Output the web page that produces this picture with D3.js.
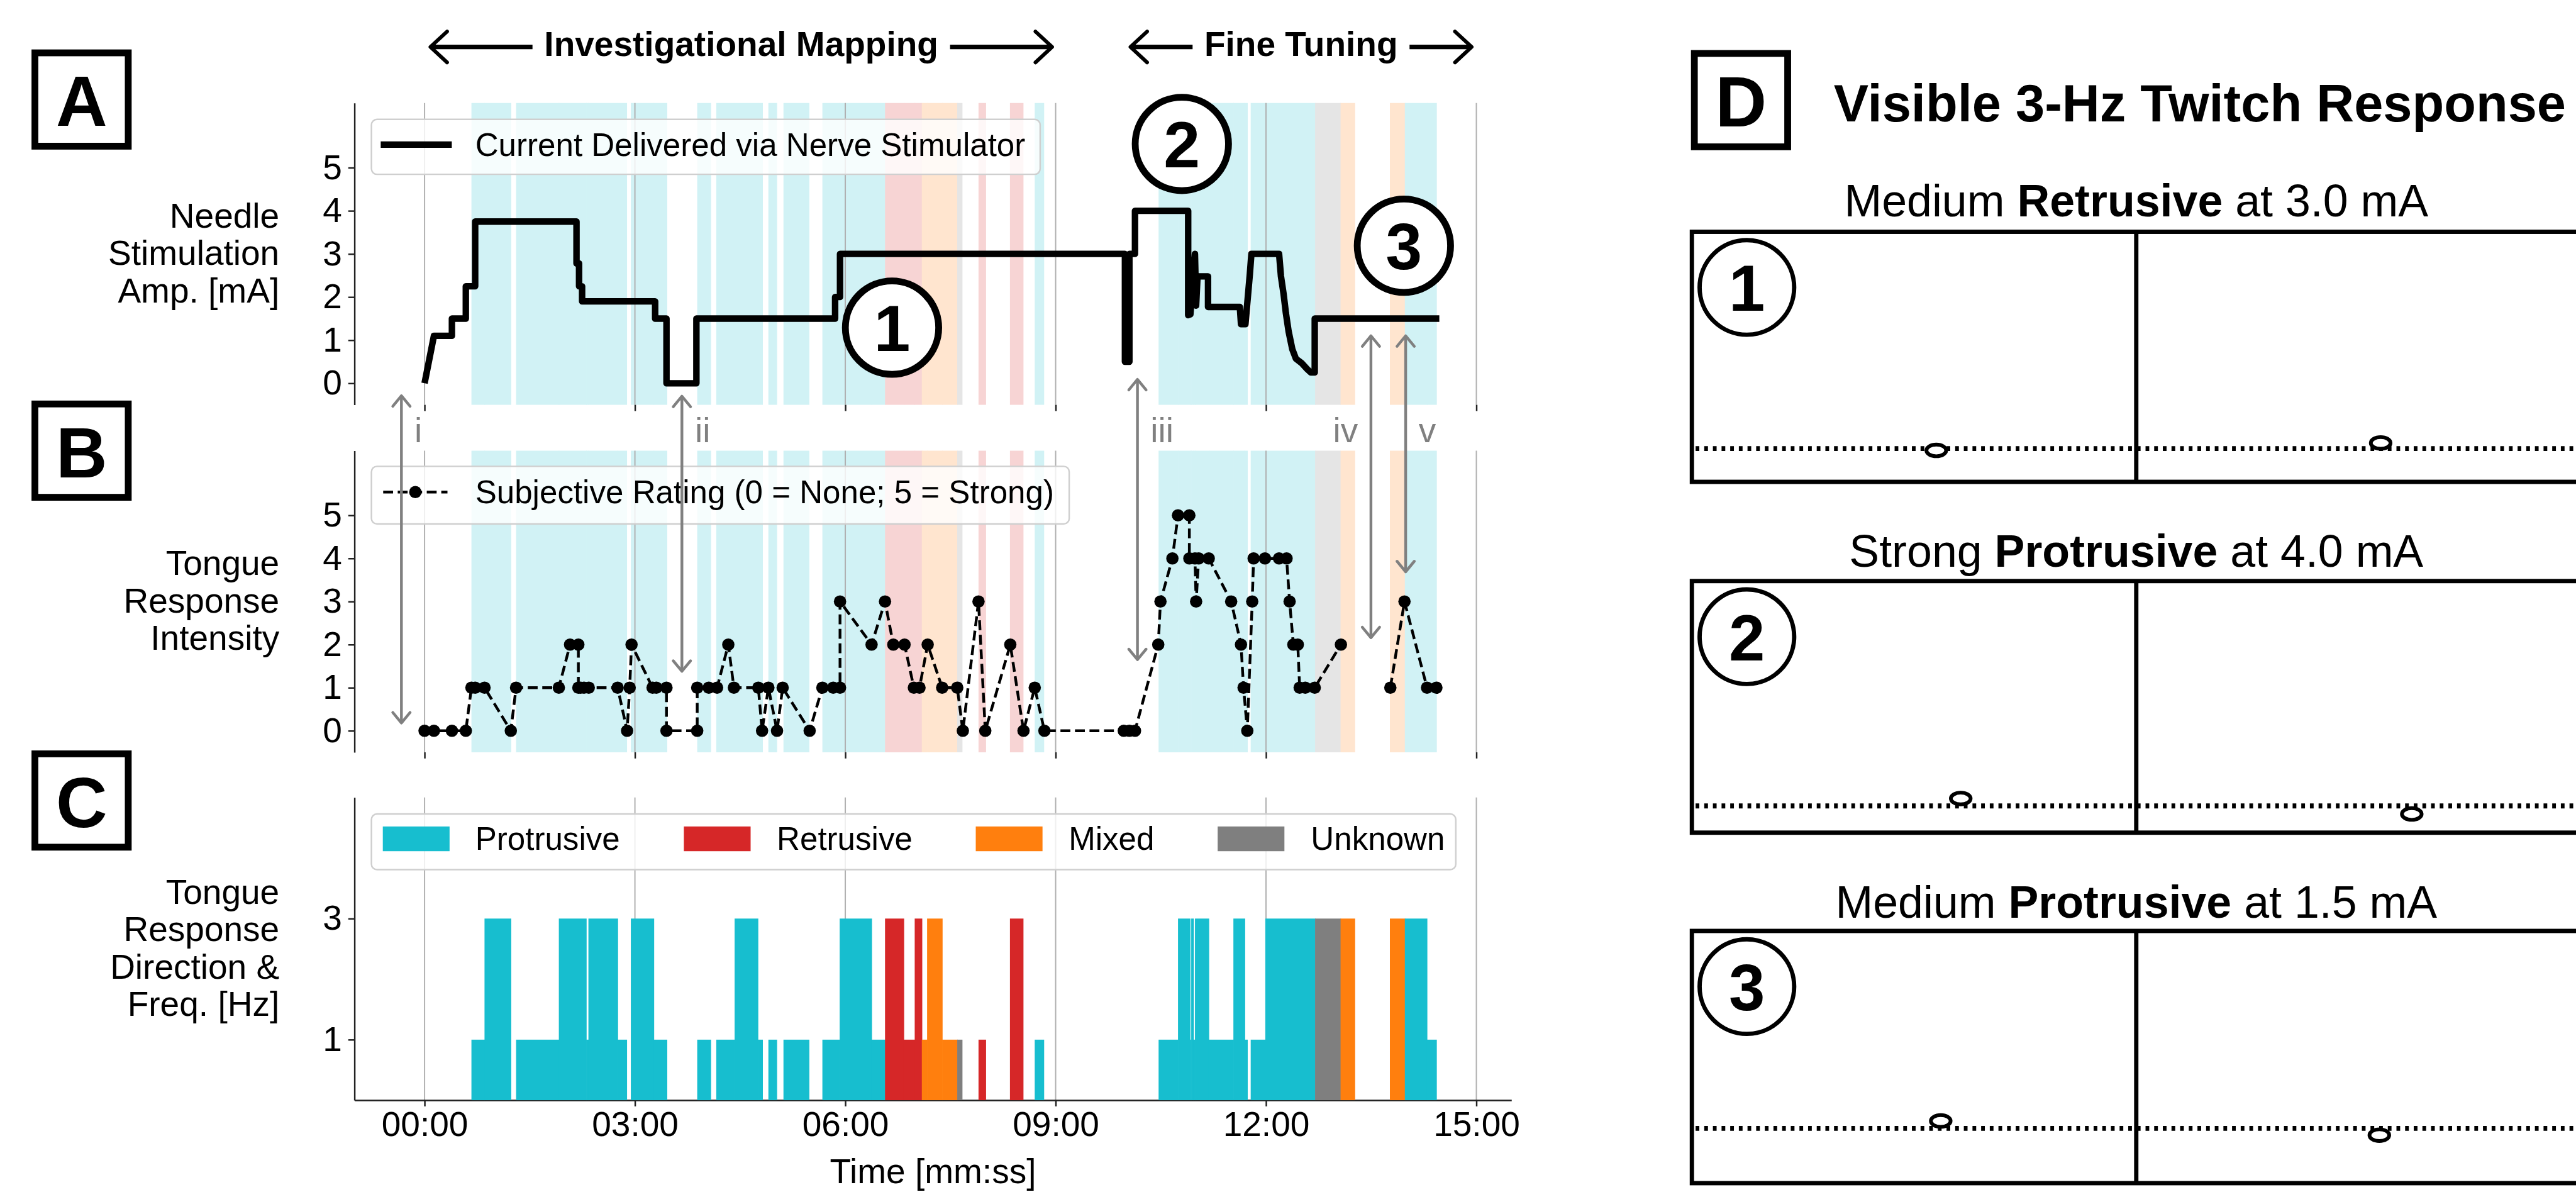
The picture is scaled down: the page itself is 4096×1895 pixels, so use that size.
<!DOCTYPE html>
<html>
<head>
<meta charset="utf-8">
<script src="https://cdn.jsdelivr.net/npm/d3@7/dist/d3.min.js"></script>
<style>
html,body{margin:0;padding:0;background:#fff;}
svg{display:block;}
</style>
</head>
<body>
<svg id="chart" width="4096" height="1895"></svg>
<script>
// ---------------- DATA ----------------
const directions = ["Protrusive", "Retrusive", "Mixed", "Unknown"];
const directionColors = ["#17becf", "#d62728", "#ff7f0e", "#7f7f7f"];
const timeTicks = [0, 180, 360, 540, 720, 900];
const timeTickLabels = ["00:00", "03:00", "06:00", "09:00", "12:00", "15:00"];
const ampTicks = [0, 1, 2, 3, 4, 5];
const ratingTicks = [0, 1, 2, 3, 4, 5];
const freqTicks = [1, 3];

// [start (s), end (s), direction, frequency (Hz)]
const responseSegments = [
  [40.1, 51.3, "Protrusive", 1], [51.3, 73.8, "Protrusive", 3],
  [78.3, 114.9, "Protrusive", 1], [114.9, 138.3, "Protrusive", 3],
  [138.3, 140.2, "Protrusive", 1], [140.2, 165.2, "Protrusive", 3],
  [165.2, 172.9, "Protrusive", 1], [176.5, 196.1, "Protrusive", 3],
  [196.1, 207.3, "Protrusive", 1], [233.3, 244.8, "Protrusive", 1],
  [249.6, 265.3, "Protrusive", 1], [265.3, 285.2, "Protrusive", 3],
  [285.2, 289.1, "Protrusive", 1], [294.2, 301.3, "Protrusive", 1],
  [307.1, 328.9, "Protrusive", 1], [340.4, 355.2, "Protrusive", 1],
  [355.2, 382.5, "Protrusive", 3], [382.5, 394.0, "Protrusive", 1],
  [394.0, 410.0, "Retrusive", 3], [410.0, 419.4, "Retrusive", 1],
  [419.4, 425.5, "Retrusive", 3], [425.5, 430.0, "Mixed", 1],
  [430.0, 442.9, "Mixed", 3], [442.9, 455.8, "Mixed", 1],
  [455.8, 459.9, "Unknown", 1], [474.0, 480.1, "Retrusive", 1],
  [500.9, 512.1, "Retrusive", 3], [522.1, 529.8, "Protrusive", 1],
  [628.1, 644.7, "Protrusive", 1], [644.7, 655.0, "Protrusive", 3],
  [655.0, 656.0, "Protrusive", 1], [656.0, 657.9, "Protrusive", 3],
  [657.9, 659.2, "Protrusive", 1], [659.2, 671.0, "Protrusive", 3],
  [671.0, 692.1, "Protrusive", 1], [692.1, 701.8, "Protrusive", 3],
  [701.8, 704.0, "Protrusive", 1], [706.9, 719.4, "Protrusive", 1],
  [719.4, 762.0, "Protrusive", 3], [762.0, 783.8, "Unknown", 3],
  [783.8, 795.9, "Mixed", 3], [826.0, 838.8, "Mixed", 3],
  [838.8, 857.7, "Protrusive", 3], [857.7, 865.8, "Protrusive", 1]
];

// [time (s), current (mA)]
const currentTrace = [
  [0, 0], [8.0, 1.1], [23.4, 1.1], [23.4, 1.5], [35.3, 1.5], [35.3, 2.25],
  [43.3, 2.25], [43.3, 3.75], [130, 3.75], [130, 2.78], [132.2, 2.78],
  [132.2, 2.25], [134.8, 2.25], [134.8, 1.9], [197.3, 1.9], [197.3, 1.5],
  [207, 1.5], [207, 0], [232.6, 0], [232.6, 1.5], [351.3, 1.5], [351.3, 2.0],
  [355.5, 2.0], [355.5, 3.0], [599.3, 3.0], [599.3, 0.5], [603.1, 0.5],
  [603.1, 3.0], [607.9, 3.0], [607.9, 4.0], [653.4, 4.0], [653.4, 1.58],
  [655.3, 1.6], [657.6, 2.4], [659.2, 3.0], [660.2, 1.8], [661.4, 2.48],
  [670.4, 2.48], [670.4, 1.77], [697.6, 1.77], [698.6, 1.37], [702.4, 1.37],
  [706.2, 2.54], [707.5, 3.0], [731.2, 3.0], [732.8, 2.48], [735.1, 2.06],
  [737.0, 1.63], [739.3, 1.21], [742.5, 0.79], [745.6, 0.57], [750.4, 0.47],
  [755.2, 0.33], [758.4, 0.25], [761.7, 0.25], [761.7, 1.5], [868.3, 1.5]
];

// [time (s), subjective rating]; null = break in the line
const ratingTrace = [
  [0, 0], [8.0, 0], [23.4, 0], [35.3, 0], [40.1, 1], [43.3, 1], [51.3, 1],
  [73.8, 0], [78.3, 1], [114.9, 1], [124.5, 2], [131.6, 2], [131.6, 1],
  [133.5, 1], [136.4, 1], [140.5, 1], [165.2, 1], [173.3, 0], [175.5, 1],
  [177.1, 2], [195.1, 1], [198.3, 1], [207.0, 1], [207.0, 0], [233.3, 0],
  [233.3, 1], [243.2, 1], [250.3, 1], [259.9, 2], [264.7, 1], [285.6, 1],
  [288.8, 0], [294.2, 1], [301.6, 0], [306.4, 1], [329.5, 0], [340.4, 1],
  [349.7, 1], [355.5, 1], [355.5, 3], [382.5, 2], [394.0, 3], [401.1, 2],
  [410.7, 2], [418.7, 1], [423.5, 1], [430.5, 2], [442.9, 1], [455.8, 1],
  [460.6, 0], [474.0, 3], [479.8, 0], [501.2, 2], [512.5, 0], [522.1, 1],
  [530.4, 0], [598.3, 0], [603.1, 0], [607.9, 0], [627.8, 2], [629.7, 3],
  [639.9, 4], [644.7, 5], [654.4, 5], [654.4, 4], [659.2, 4], [660.2, 3],
  [662.4, 4], [671.0, 4], [690.2, 3], [698.6, 2], [700.8, 1], [704.0, 0],
  [708.2, 3], [709.4, 4], [719.1, 4], [731.2, 4], [737.6, 4], [740.2, 3],
  [743.4, 2], [747.2, 2], [748.8, 1], [753.6, 1], [761.7, 1], [784.1, 2],
  null,
  [826.4, 1], [838.5, 3], [857.8, 1], [865.8, 1]
];

const phases = [["Investigational Mapping", 5, 537], ["Fine Tuning", 604, 896]];
// [label, time (s), current (mA)]
const highlightMarks = [["1", 400, 1.29], ["2", 648, 5.55], ["3", 838, 3.19]];
// [label, time (s), value in A, value in B, label side]
const comparisonArrows = [
  ["i", -19.8, -0.29, 0.18, 1], ["ii", 220.2, -0.30, 1.38, 1],
  ["iii", 610.0, 0.09, 1.65, 1], ["iv", 809.8, 1.10, 2.16, -1],
  ["v", 839.5, 1.10, 3.69, 1]
];
// twitch examples: [number, prefix, bold word, suffix]
const twitchExamples = [
  ["1", "Medium ", "Retrusive", " at 3.0 mA"],
  ["2", "Strong ", "Protrusive", " at 4.0 mA"],
  ["3", "Medium ", "Protrusive", " at 1.5 mA"]
];
// tongue-tip marker position per example: [left x frac, left dy, right x frac, right dy]
const twitchMarkers = [
  [0.55, 3, 0.55, -9],
  [0.605, -12, 0.62, 13],
  [0.56, -12, 0.547, 11]
];

// ---------------- LAYOUT ----------------
const S = 4096 / 4168;
const FONT = "'Liberation Sans', Arial, Helvetica, sans-serif";
const svg = d3.select("#chart");
const root = svg.append("g").attr("transform", `scale(${S})`).attr("font-family", FONT);

const x = d3.scaleLinear().domain([-60, 930]).range([573.5, 2445.5]);
const A = {top: 166.6, bottom: 654.9};
const B = {top: 729.1, bottom: 1217.0};
const C = {top: 1290.1, bottom: 1779.8};
const yA = d3.scaleLinear().domain([-0.5, 6.5]).range([A.bottom, A.top]);
const yB = d3.scaleLinear().domain([-0.5, 6.5]).range([B.bottom, B.top]);
const yC = d3.scaleLinear().domain([0, 5]).range([C.bottom, C.top]);

const colorOf = d => directionColors[directions.indexOf(d)];
const lightOf = d => d3.interpolateRgb("#ffffff", colorOf(d))(0.2);

// ---- shading for A and B ----
[A, B].forEach(P => {
  root.append("g").selectAll("rect").data(responseSegments).join("rect")
    .attr("x", d => x(d[0]))
    .attr("width", d => x(d[1]) - x(d[0]) + 0.7)
    .attr("y", P.top).attr("height", P.bottom - P.top)
    .attr("fill", d => lightOf(d[2]));
});

// ---- gridlines ----
[A, B, C].forEach(P => {
  root.append("g").selectAll("line").data(timeTicks).join("line")
    .attr("x1", d => x(d)).attr("x2", d => x(d))
    .attr("y1", P.top).attr("y2", P.bottom)
    .attr("stroke", "#b0b0b0").attr("stroke-width", 2);
});

// ---- axes ----
function styleAxis(g) {
  g.attr("font-family", FONT).attr("font-size", 56);
  g.selectAll(".tick line").attr("stroke", "#222").attr("stroke-width", 2.5);
  g.select(".domain").attr("stroke", "#222").attr("stroke-width", 2.5);
  g.selectAll(".tick text").attr("fill", "#000");
}
function xAxis(P, labels) {
  const ax = d3.axisBottom(x).tickValues(timeTicks).tickSize(10).tickSizeOuter(0).tickPadding(8)
    .tickFormat((d, i) => labels ? timeTickLabels[i] : "");
  const g = root.append("g").attr("transform", `translate(0,${P.bottom})`).call(ax);
  styleAxis(g);
  if (!labels) g.select(".domain").remove();
}
function yAxis(scale, ticks) {
  const ax = d3.axisLeft(scale).tickValues(ticks).tickSize(10).tickSizeOuter(0).tickPadding(10)
    .tickFormat(d3.format("d"));
  const g = root.append("g").attr("transform", `translate(${x(-60)},0)`).call(ax);
  styleAxis(g);
}
xAxis(A, false); xAxis(B, false); xAxis(C, true);
yAxis(yA, ampTicks); yAxis(yB, ratingTicks); yAxis(yC, freqTicks);

root.append("text").attr("x", (x(-60) + x(930)) / 2).attr("y", 1914)
  .attr("text-anchor", "middle").attr("font-size", 56).text("Time [mm:ss]");

// ---- y labels ----
const yLabels = [
  [["Needle", "Stimulation", "Amp. [mA]"], (A.top + A.bottom) / 2],
  [["Tongue", "Response", "Intensity"], (B.top + B.bottom) / 2],
  [["Tongue", "Response", "Direction &", "Freq. [Hz]"], (C.top + C.bottom) / 2]
];
yLabels.forEach(([lines, cy]) => {
  const n = lines.length;
  lines.forEach((t, i) => {
    root.append("text").attr("x", 452).attr("y", cy + 18 + (i - (n - 1) / 2) * 60.5)
      .attr("text-anchor", "end").attr("font-size", 56).text(t);
  });
});

// ---- panel letter boxes ----
function letterBox(letter, x0, y0) {
  root.append("rect").attr("x", x0 + 5.5).attr("y", y0 + 5.5).attr("width", 151).attr("height", 151)
    .attr("fill", "#fff").attr("stroke", "#000").attr("stroke-width", 11);
  root.append("text").attr("x", x0 + 81).attr("y", y0 + 81 + 43)
    .attr("text-anchor", "middle").attr("font-size", 115).attr("font-weight", "bold").text(letter);
}
letterBox("A", 51, 80); letterBox("B", 51, 648); letterBox("C", 51, 1214); letterBox("D", 2736, 81);

// ---- panel C bars ----
root.append("g").selectAll("rect").data(responseSegments).join("rect")
  .attr("x", d => x(d[0]))
  .attr("width", d => x(d[1]) - x(d[0]) + 0.7)
  .attr("y", d => yC(d[3])).attr("height", d => yC(0) - yC(d[3]))
  .attr("fill", d => colorOf(d[2]));

// ---- panel A current line ----
root.append("path").datum(currentTrace)
  .attr("d", d3.line().x(d => x(d[0])).y(d => yA(d[1])))
  .attr("fill", "none").attr("stroke", "#000").attr("stroke-width", 10.5)
  .attr("stroke-linejoin", "round").attr("stroke-linecap", "butt");

// ---- panel B ratings ----
root.append("path").datum(ratingTrace)
  .attr("d", d3.line().defined(d => d !== null).x(d => x(d[0])).y(d => yB(d[1])))
  .attr("fill", "none").attr("stroke", "#000").attr("stroke-width", 4.5)
  .attr("stroke-dasharray", "16,7.5");
root.append("g").selectAll("circle").data(ratingTrace.filter(d => d !== null)).join("circle")
  .attr("cx", d => x(d[0])).attr("cy", d => yB(d[1])).attr("r", 10).attr("fill", "#000");

// ---- legends ----
function legendBox(x0, y0, w, h) {
  root.append("rect").attr("x", x0).attr("y", y0).attr("width", w).attr("height", h).attr("rx", 9)
    .attr("fill", "#fff").attr("fill-opacity", 0.8).attr("stroke", "#cfcfcf").attr("stroke-width", 2.5);
}
legendBox(601, 193, 1082, 89);
root.append("line").attr("x1", 616).attr("x2", 731).attr("y1", 234).attr("y2", 234)
  .attr("stroke", "#000").attr("stroke-width", 10.5);
root.append("text").attr("x", 769).attr("y", 252).attr("font-size", 52).text("Current Delivered via Nerve Stimulator");

legendBox(601, 754.4, 1129, 93.3);
root.append("line").attr("x1", 620).attr("x2", 724).attr("y1", 796).attr("y2", 796)
  .attr("stroke", "#000").attr("stroke-width", 4.5).attr("stroke-dasharray", "16,7.5");
root.append("circle").attr("cx", 672).attr("cy", 796).attr("r", 10).attr("fill", "#000");
root.append("text").attr("x", 769).attr("y", 814).attr("font-size", 52).text("Subjective Rating (0 = None; 5 = Strong)");

legendBox(601, 1316.8, 1754.5, 90);
const legPatchX = [619.4, 1106.5, 1578.8, 1970.2];
const legTextX = [769, 1256.8, 1729, 2121];
directions.forEach((d, i) => {
  root.append("rect").attr("x", legPatchX[i]).attr("y", 1337).attr("width", 108).attr("height", 40)
    .attr("fill", directionColors[i]);
  root.append("text").attr("x", legTextX[i]).attr("y", 1375).attr("font-size", 52).text(d);
});

// ---- highlight circles in A ----
highlightMarks.forEach(([lab, t, v]) => {
  root.append("circle").attr("cx", x(t)).attr("cy", yA(v)).attr("r", 75.5)
    .attr("fill", "#fff").attr("stroke", "#000").attr("stroke-width", 11);
  root.append("text").attr("x", x(t)).attr("y", yA(v) + 38).attr("text-anchor", "middle")
    .attr("font-size", 106).attr("font-weight", "bold").text(lab);
});

// ---- comparison arrows ----
comparisonArrows.forEach(([lab, t, va, vb, side]) => {
  const xx = x(t), y1 = yA(va), y2 = yB(vb);
  const g = root.append("g").attr("stroke", "#808080").attr("stroke-width", 4.5).attr("fill", "none")
    .attr("stroke-linecap", "round").attr("stroke-linejoin", "round");
  g.append("line").attr("x1", xx).attr("x2", xx).attr("y1", y1 + 2).attr("y2", y2 - 2);
  g.append("path").attr("d", `M${xx - 14},${y1 + 17} L${xx},${y1} L${xx + 14},${y1 + 17}`);
  g.append("path").attr("d", `M${xx - 14},${y2 - 17} L${xx},${y2} L${xx + 14},${y2 - 17}`);
  root.append("text").attr("x", xx + side * 21).attr("y", 715)
    .attr("text-anchor", side > 0 ? "start" : "end").attr("font-size", 56).attr("fill", "#808080").text(lab);
});

// ---- phase headers ----
phases.forEach(([label, t0, t1]) => {
  const x0 = x(t0), x1 = x(t1), xm = (x0 + x1) / 2, yy = 76;
  const txt = root.append("text").attr("x", xm).attr("y", 90.5).attr("text-anchor", "middle")
    .attr("font-size", 56).attr("font-weight", "bold").text(label);
  const w = txt.node().getComputedTextLength();
  const gap = 19;
  const g = root.append("g").attr("stroke", "#000").attr("fill", "none")
    .attr("stroke-linecap", "round").attr("stroke-linejoin", "round");
  g.append("line").attr("x1", x0 + 2).attr("x2", xm - w / 2 - gap).attr("y1", yy).attr("y2", yy)
    .attr("stroke-width", 7.5).attr("stroke-linecap", "butt");
  g.append("line").attr("x1", xm + w / 2 + gap).attr("x2", x1 - 2).attr("y1", yy).attr("y2", yy)
    .attr("stroke-width", 7.5).attr("stroke-linecap", "butt");
  g.append("path").attr("d", `M${x0 + 27},${yy - 25} L${x0},${yy} L${x0 + 27},${yy + 25}`).attr("stroke-width", 6);
  g.append("path").attr("d", `M${x1 - 27},${yy - 25} L${x1},${yy} L${x1 - 27},${yy + 25}`).attr("stroke-width", 6);
});

// ---- panel D ----
const titleD = root.append("text").attr("x", 2967).attr("y", 196).attr("font-size", 84.5).attr("font-weight", "bold")
  .text("Visible 3-Hz Twitch Response");
const tw = titleD.node().getComputedTextLength();
const maxTw = 4160 - 2967;
if (tw > maxTw) titleD.attr("font-size", 84.5 * maxTw / tw);

const boxTop = [375, 940, 1506], boxBottom = [779.5, 1347, 1914], dotY = [725.6, 1303.8, 1825.4], subY = [350, 917, 1485];
const boxL = 2737.5, boxMid = 3456.5, boxR = 4200;
const halfW = boxMid - boxL;
const xLeftHalf = d3.scaleLinear().domain([0, 1]).range([boxL, boxMid]);
const xRightHalf = d3.scaleLinear().domain([0, 1]).range([boxMid, boxMid + halfW]);
twitchExamples.forEach(([num, pre, bold, suf], i) => {
  const t = root.append("text").attr("x", boxMid).attr("y", subY[i]).attr("text-anchor", "middle").attr("font-size", 73);
  t.append("tspan").text(pre);
  t.append("tspan").attr("font-weight", "bold").text(bold);
  t.append("tspan").text(suf);
  root.append("rect").attr("x", boxL).attr("y", boxTop[i]).attr("width", boxR - boxL)
    .attr("height", boxBottom[i] - boxTop[i]).attr("fill", "none").attr("stroke", "#000").attr("stroke-width", 7);
  root.append("line").attr("x1", boxMid).attr("x2", boxMid).attr("y1", boxTop[i]).attr("y2", boxBottom[i])
    .attr("stroke", "#000").attr("stroke-width", 7);
  root.append("line").attr("x1", boxL + 6).attr("x2", boxR).attr("y1", dotY[i]).attr("y2", dotY[i])
    .attr("stroke", "#000").attr("stroke-width", 8).attr("stroke-dasharray", "6,8");
  const m = twitchMarkers[i];
  [[xLeftHalf(m[0]), dotY[i] + m[1]], [xRightHalf(m[2]), dotY[i] + m[3]]].forEach(([cx, cy]) => {
    root.append("ellipse").attr("cx", cx).attr("cy", cy).attr("rx", 16).attr("ry", 9.5)
      .attr("fill", "#fff").attr("stroke", "#000").attr("stroke-width", 6);
  });
  const ccy = boxTop[i] + 90, ccx = boxL + 89;
  root.append("circle").attr("cx", ccx).attr("cy", ccy).attr("r", 76.5)
    .attr("fill", "#fff").attr("stroke", "#000").attr("stroke-width", 7);
  root.append("text").attr("x", ccx).attr("y", ccy + 38).attr("text-anchor", "middle")
    .attr("font-size", 105).attr("font-weight", "bold").text(num);
});
</script>
</body>
</html>
